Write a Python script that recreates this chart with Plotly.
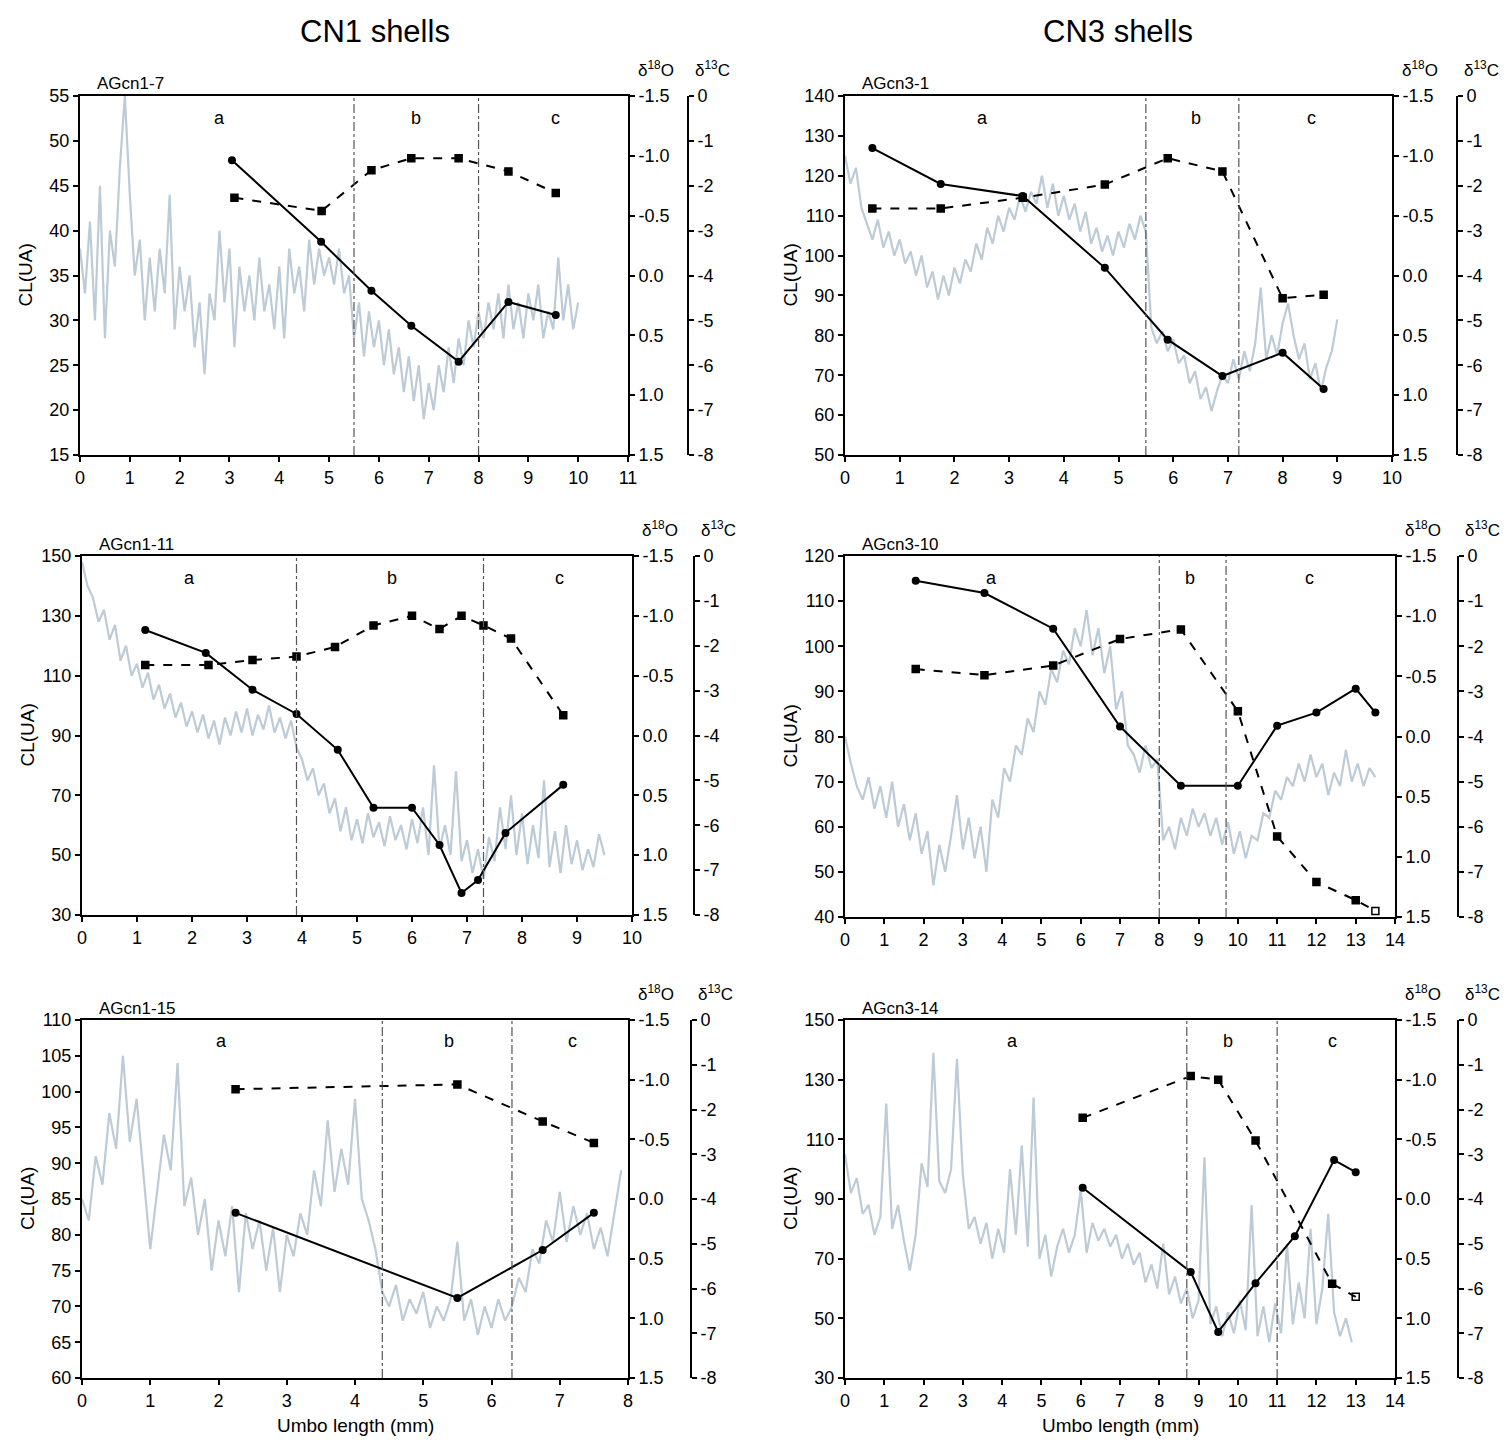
import plotly.graph_objects as go

W, H = 1509, 1442

# ---------------- DATA ----------------
# CL (UA) grey profiles (hand-read, sampled along umbo length)
cl1_step = 0.1
cl1 = [38, 33, 41, 30, 45, 28, 40, 36, 47, 55, 44, 35, 39, 30, 37, 31, 38, 33, 44, 29,
       36, 31, 35, 27, 32, 24, 33, 30, 40, 32, 38, 27, 36, 31, 35, 30, 37, 31, 34, 29,
       36, 28, 38, 33, 36, 31, 39, 34, 38, 35, 37, 34, 38, 33, 35, 28, 32, 26, 31, 27,
       30, 25, 29, 24, 27, 22, 26, 21, 25, 19, 23, 20, 25, 22, 27, 23, 28, 25, 30, 27,
       31, 28, 32, 29, 33, 28, 34, 29, 32, 28, 33, 30, 34, 28, 31, 29, 37, 30, 34, 29, 32]

cl2_step = 0.1
cl2 = [125, 118, 122, 112, 108, 104, 109, 102, 106, 100, 104, 98, 101, 95, 100, 92, 96, 89, 95, 90,
       97, 93, 99, 96, 103, 99, 107, 103, 110, 106, 112, 109, 115, 111, 116, 113, 120, 112, 118, 110,
       115, 109, 113, 106, 111, 103, 107, 101, 105, 100, 106, 102, 108, 104, 110, 106, 82, 78, 81, 76,
       79, 73, 75, 68, 71, 64, 67, 61, 66, 70, 68, 74, 69, 76, 71, 78, 92, 74, 80, 75,
       83, 88, 80, 74, 78, 69, 73, 66, 72, 76, 84]

cl3_step = 0.1
cl3 = [148, 140, 136, 128, 132, 122, 127, 115, 120, 110, 114, 106, 111, 102, 107, 99, 104, 96, 101, 93,
       98, 91, 97, 89, 95, 87, 96, 90, 98, 91, 99, 90, 97, 92, 100, 91, 96, 89, 95, 86,
       82, 75, 79, 70, 74, 64, 69, 58, 66, 55, 62, 54, 64, 56, 61, 53, 63, 55, 60, 52,
       62, 54, 66, 50, 80, 52, 60, 50, 78, 48, 55, 44, 52, 42, 56, 48, 66, 52, 70, 50,
       64, 47, 60, 49, 75, 46, 58, 44, 60, 47, 55, 45, 52, 46, 57, 50]

cl4_step = 0.15
cl4 = [80, 74, 69, 66, 71, 64, 69, 62, 70, 60, 65, 57, 63, 54, 59, 47, 56, 50, 58, 67,
       55, 62, 53, 60, 50, 66, 62, 73, 70, 78, 76, 84, 81, 90, 87, 95, 92, 99, 96, 104,
       100, 108, 98, 104, 94, 100, 86, 90, 78, 76, 72, 78, 73, 75, 57, 60, 55, 62, 58, 64,
       60, 63, 58, 62, 56, 61, 54, 59, 53, 58, 57, 63, 62, 68, 66, 71, 69, 74, 70, 76,
       71, 74, 67, 72, 69, 77, 70, 74, 69, 73, 71]

cl5_step = 0.1
cl5 = [85, 82, 91, 87, 97, 92, 105, 93, 99, 88, 78, 86, 94, 89, 104, 84, 88, 80, 85, 75,
       82, 77, 84, 72, 83, 78, 82, 75, 81, 72, 80, 77, 83, 80, 89, 84, 96, 86, 92, 87,
       99, 85, 82, 78, 72, 70, 73, 68, 71, 69, 72, 67, 70, 68, 71, 79, 68, 71, 66, 70,
       67, 71, 68, 70, 74, 72, 78, 76, 82, 79, 86, 79, 84, 80, 83, 78, 81, 77, 83, 89]

cl6_step = 0.15
cl6 = [105, 92, 97, 85, 88, 78, 84, 122, 80, 88, 76, 66, 78, 102, 94, 139, 96, 92, 100, 137,
       98, 80, 84, 75, 82, 70, 80, 72, 100, 78, 108, 74, 124, 70, 78, 64, 74, 80, 72, 78,
       93, 72, 82, 76, 80, 74, 78, 70, 75, 68, 72, 62, 68, 60, 75, 58, 64, 55, 60, 50,
       56, 104, 48, 54, 44, 52, 45, 56, 46, 88, 44, 54, 42, 55, 45, 75, 48, 62, 50, 80,
       48, 60, 85, 52, 44, 50, 42]

# delta18O (dashed, squares) and delta13C (solid, circles)
o1_x = [3.1, 4.85, 5.85, 6.65, 7.6, 8.6, 9.55]
o1 = [-0.65, -0.54, -0.88, -0.98, -0.98, -0.87, -0.69]
c1_x = [3.05, 4.84, 5.85, 6.65, 7.6, 8.6, 9.55]
c1 = [-1.43, -3.25, -4.34, -5.12, -5.92, -4.59, -4.88]

o2_x = [0.5, 1.75, 3.25, 4.75, 5.9, 6.9, 8.0, 8.75]
o2 = [-0.56, -0.56, -0.65, -0.76, -0.98, -0.87, 0.19, 0.16]
c2_x = [0.5, 1.75, 3.25, 4.75, 5.9, 6.9, 8.0, 8.75]
c2 = [-1.16, -1.96, -2.23, -3.83, -5.43, -6.24, -5.72, -6.53]

o3_x = [1.15, 2.3, 3.1, 3.9, 4.6, 5.3, 6.0, 6.5, 6.9, 7.3, 7.8, 8.75]
o3 = [-0.59, -0.59, -0.63, -0.66, -0.74, -0.92, -1.0, -0.89, -1.0, -0.92, -0.81, -0.17]
c3_x = [1.15, 2.25, 3.1, 3.9, 4.65, 5.3, 6.0, 6.5, 6.9, 7.2, 7.7, 8.75]
c3 = [-1.65, -2.16, -2.98, -3.52, -4.32, -5.61, -5.61, -6.44, -7.51, -7.22, -6.17, -5.1]

o4_x = [1.8, 3.55, 5.3, 7.0, 8.55, 10.0, 11.0, 12.0, 13.0, 13.5]
o4 = [-0.56, -0.51, -0.59, -0.81, -0.89, -0.21, 0.83, 1.21, 1.36, 1.45]
c4_x = [1.8, 3.55, 5.3, 7.0, 8.55, 10.0, 11.0, 12.0, 13.0, 13.5]
c4 = [-0.55, -0.82, -1.61, -3.78, -5.09, -5.09, -3.76, -3.47, -2.94, -3.47]

o5_x = [2.25, 5.5, 6.75, 7.5]
o5 = [-0.92, -0.96, -0.65, -0.47]
c5_x = [2.25, 5.5, 6.75, 7.5]
c5 = [-4.31, -6.21, -5.14, -4.31]

o6_x = [6.05, 8.8, 9.5, 10.45, 12.4, 13.0]
o6 = [-0.68, -1.03, -1.0, -0.49, 0.71, 0.82]
c6_x = [6.05, 8.8, 9.5, 10.45, 11.45, 12.45, 13.0]
c6 = [-3.75, -5.63, -6.97, -5.88, -4.83, -3.13, -3.4]

names = ["AGcn1-7", "AGcn3-1", "AGcn1-11", "AGcn3-10", "AGcn1-15", "AGcn3-14"]
boundaries = [[5.5, 8.0], [5.5, 7.2], [3.9, 7.3], [8.0, 9.7], [4.4, 6.3], [8.7, 11.0]]
zone_labels = ["a", "b", "c"]
zone_pos = [[2.8, 6.75, 9.55], [2.52, 6.42, 8.52], [1.96, 5.64, 8.69],
            [3.72, 8.78, 11.83], [2.05, 5.38, 7.18], [4.27, 9.75, 12.42]]
x_max = [11, 10, 10, 14, 8, 14]
cl_ranges = [[15, 55, 5], [50, 140, 10], [30, 150, 20], [40, 120, 10], [60, 110, 5], [30, 150, 20]]
o_ticks = [-1.5, -1.0, -0.5, 0.0, 0.5, 1.0, 1.5]
c_ticks = [0, -1, -2, -3, -4, -5, -6, -7, -8]

# ---------------- LAYOUT GEOMETRY (pixels) ----------------
geo = [
    dict(x0=80, x1=628, y0=96, y1=455, cpos=688),
    dict(x0=845, x1=1392, y0=96, y1=455, cpos=1457),
    dict(x0=82, x1=632, y0=556, y1=915, cpos=694),
    dict(x0=845, x1=1395, y0=556, y1=917, cpos=1458),
    dict(x0=82, x1=628, y0=1020, y1=1378, cpos=691),
    dict(x0=845, x1=1395, y0=1020, y1=1378, cpos=1458),
]

cls = [(cl1, cl1_step), (cl2, cl2_step), (cl3, cl3_step), (cl4, cl4_step), (cl5, cl5_step), (cl6, cl6_step)]
oss = [(o1_x, o1), (o2_x, o2), (o3_x, o3), (o4_x, o4), (o5_x, o5), (o6_x, o6)]
css = [(c1_x, c1), (c2_x, c2), (c3_x, c3), (c4_x, c4), (c5_x, c5), (c6_x, c6)]
open_last = [False, False, False, True, False, True]

FONT = "Arial, Liberation Sans, sans-serif"
tf = dict(family=FONT, size=18, color="black")

fig = go.Figure()
layout = dict(width=W, height=H, margin=dict(l=0, r=0, t=0, b=0, pad=0, autoexpand=False),
              paper_bgcolor="white", plot_bgcolor="white", showlegend=False,
              font=dict(family=FONT, color="black"))
shapes = []
annotations = []


def yn(i):
    return "y" if i == 1 else f"y{i}"


def ykey(i):
    return "yaxis" if i == 1 else f"yaxis{i}"


def ann(x, y, text, size, **kw):
    d = dict(x=x / W, y=1 - y / H, xref="paper", yref="paper", text=text, showarrow=False,
             xanchor="center", yanchor="middle", font=dict(family=FONT, size=size, color="black"))
    d.update(kw)
    return d


for k in range(6):
    g = geo[k]
    xa = "x" if k == 0 else f"x{k+1}"
    xkey = "xaxis" if k == 0 else f"xaxis{k+1}"
    yl, yo, yc = 3 * k + 1, 3 * k + 2, 3 * k + 3

    cl, step = cls[k]
    cl_x = [round(i * step, 3) for i in range(len(cl))]
    fig.add_trace(go.Scatter(x=cl_x, y=cl, xaxis=xa, yaxis=yn(yl), mode="lines",
                             line=dict(color="#bccbd6", width=2.2), hoverinfo="skip"))
    ox, oy = oss[k]
    sym = ["square"] * len(ox)
    if open_last[k]:
        sym[-1] = "square-open"
    fig.add_trace(go.Scatter(x=ox, y=oy, xaxis=xa, yaxis=yn(yo), mode="lines+markers",
                             line=dict(color="black", width=2, dash="dash"),
                             marker=dict(symbol=sym, size=7, color="black",
                                         line=dict(color="black", width=1.5))))
    cx, cy = css[k]
    fig.add_trace(go.Scatter(x=cx, y=cy, xaxis=xa, yaxis=yn(yc), mode="lines+markers",
                             line=dict(color="black", width=2),
                             marker=dict(symbol="circle", size=8, color="black")))

    xdom = [g["x0"] / W, g["x1"] / W]
    ydom = [1 - g["y1"] / H, 1 - g["y0"] / H]
    common = dict(showgrid=False, zeroline=False, showline=True, linecolor="black",
                  linewidth=2, ticks="outside", ticklen=5, tickwidth=1.5,
                  tickcolor="black", tickfont=tf, automargin=False)
    layout[xkey] = dict(domain=xdom, range=[0, x_max[k]], dtick=1, tick0=0,
                        anchor=yn(yl), mirror=True, **common)
    lo, hi, st = cl_ranges[k]
    layout[ykey(yl)] = dict(domain=ydom, range=[lo, hi],
                            tickvals=list(range(lo, hi + 1, st)),
                            anchor=xa, **common)
    layout[ykey(yo)] = dict(overlaying=yn(yl), side="right", anchor=xa,
                            range=[1.5, -1.5], tickvals=o_ticks,
                            ticktext=[("%.1f" % v).replace("-0.0", "0.0") for v in o_ticks],
                            **common)
    layout[ykey(yc)] = dict(overlaying=yn(yl), side="right", anchor="free",
                            position=g["cpos"] / W, range=[-8, 0], tickvals=c_ticks,
                            ticktext=[str(v) for v in c_ticks], **common)

    for b in boundaries[k]:
        shapes.append(dict(type="line", xref=xa, yref=f"{yn(yl)} domain", x0=b, x1=b,
                           y0=0, y1=1, line=dict(color="#555555", width=1.2, dash="dashdot")))
    for lab, pos in zip(zone_labels, zone_pos[k]):
        annotations.append(dict(x=pos, y=0.94, xref=xa, yref=f"{yn(yl)} domain",
                                text=lab, showarrow=False, xanchor="center", yanchor="middle",
                                font=tf))
    annotations.append(ann(g["x0"] + 15, g["y0"] - 12, names[k], 17, xanchor="left"))
    annotations.append(ann(g["x1"] + 28, g["y0"] - 27, "δ<sup>18</sup>O", 17))
    annotations.append(ann(g["cpos"] + 24, g["y0"] - 27, "δ<sup>13</sup>C", 17))
    annotations.append(ann(g["x0"] - 55, (g["y0"] + g["y1"]) / 2, "CL(UA)", 19, textangle=-90))

annotations.append(ann(375, 32, "CN1 shells", 31))
annotations.append(ann(1118, 32, "CN3 shells", 31))
annotations.append(ann((82 + 628) / 2, 1425, "Umbo length (mm)", 19))
annotations.append(ann((845 + 1395) / 2, 1425, "Umbo length (mm)", 19))

layout["shapes"] = shapes
layout["annotations"] = annotations
fig.update_layout(**layout)
fig.write_html("out.html", config={"displayModeBar": False},
               post_script="document.body.style.margin='0px';"
                           "document.body.style.overflow='hidden';")
